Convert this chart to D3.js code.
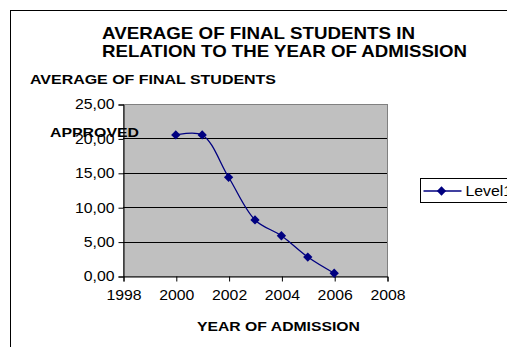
<!DOCTYPE html>
<html lang="en">
	<head>
		<meta charset="utf-8">
		<title>Average of final students</title>
		<script type="text/javascript" src="https://d3js.org/d3.v7.min.js"></script>
		<style type="text/css">
			body { margin: 0; background: #fff; }
			text { font-family: Arial, "Liberation Sans", sans-serif; }
		</style>
	</head>
	<body>
		<script type="text/javascript">

			//Data
			var years = [2000, 2001, 2002, 2003, 2004, 2005, 2006];
			var level1 = [20.5, 20.5, 14.35, 8.15, 5.85, 2.75, 0.4];
			var xTicks = [1998, 2000, 2002, 2004, 2006, 2008];
			var yTicks = [0, 5, 10, 15, 20, 25];

			//Width and height
			var w = 507;
			var h = 347;
			var plot = { left: 123, top: 104, right: 387, bottom: 276 };

			//Text in the original is drawn a little wider than it is tall
			var stretch = 1.13;

			var dataset = years.map(function(y, i) { return { year: y, value: level1[i] }; });

			var xScale = d3.scaleLinear().domain([1998, 2008]).range([plot.left, plot.right]);
			var yScale = d3.scaleLinear().domain([0, 25]).range([plot.bottom, plot.top]);

			var svg = d3.select("body")
						.append("svg")
						.attr("width", w)
						.attr("height", h);

			//Widen a text selection by a factor
			function widen(sel, k) {
				sel.each(function() {
					var len = this.getComputedTextLength();
					d3.select(this)
						.attr("textLength", len * k)
						.attr("lengthAdjust", "spacingAndGlyphs");
				});
			}

			//Outer frame (cut off at right and bottom)
			svg.append("rect")
				.attr("x", 10.5).attr("y", 10.5)
				.attr("width", 520).attr("height", 360)
				.attr("fill", "#fff")
				.attr("stroke", "#000")
				.attr("stroke-width", 1);

			//Plot area
			svg.append("rect")
				.attr("x", plot.left + 0.5).attr("y", plot.top + 0.5)
				.attr("width", plot.right - plot.left)
				.attr("height", plot.bottom - plot.top)
				.attr("fill", "#c0c0c0")
				.attr("stroke", "#808080")
				.attr("stroke-width", 1);

			//Gridlines
			svg.selectAll("line.grid")
				.data(yTicks.filter(function(d) { return d > 0 && d < 25; }))
				.enter()
				.append("line")
				.attr("class", "grid")
				.attr("x1", plot.left).attr("x2", plot.right)
				.attr("y1", function(d) { return Math.round(yScale(d)) + 0.5; })
				.attr("y2", function(d) { return Math.round(yScale(d)) + 0.5; })
				.attr("stroke", "#000")
				.attr("stroke-width", 1);

			//Y axis
			var yAxis = d3.axisLeft(yScale)
				.tickValues(yTicks)
				.tickSize(5)
				.tickPadding(4)
				.tickFormat(function(d) { return d3.format(".2f")(d).replace(".", ","); });

			svg.append("g")
				.attr("class", "y axis")
				.attr("transform", "translate(" + (plot.left + 0.5) + ",0.5)")
				.call(yAxis)
				.call(function(g) {
					g.select(".domain").attr("stroke", "#000");
					g.selectAll("text").attr("font-size", "14px").attr("fill", "#000")
						.attr("font-family", "Arial, 'Liberation Sans', sans-serif")
						.call(widen, stretch);
				});

			//X axis
			var xAxis = d3.axisBottom(xScale)
				.tickValues(xTicks)
				.tickSize(5)
				.tickPadding(9)
				.tickFormat(d3.format("d"));

			svg.append("g")
				.attr("class", "x axis")
				.attr("transform", "translate(0.5," + (plot.bottom + 0.5) + ")")
				.call(xAxis)
				.call(function(g) {
					g.select(".domain").attr("stroke", "#000");
					g.selectAll("text").attr("font-size", "14px").attr("fill", "#000")
						.attr("font-family", "Arial, 'Liberation Sans', sans-serif")
						.call(widen, stretch);
				});

			//Line
			var line = d3.line()
				.x(function(d) { return xScale(d.year); })
				.y(function(d) { return yScale(d.value); })
				.curve(d3.curveCatmullRom.alpha(0.5));

			svg.append("path")
				.datum(dataset)
				.attr("d", line)
				.attr("fill", "none")
				.attr("stroke", "#000080")
				.attr("stroke-width", 1.3);

			var diamond = d3.symbol().type(d3.symbolDiamond2).size(55);

			svg.selectAll("path.marker")
				.data(dataset)
				.enter()
				.append("path")
				.attr("class", "marker")
				.attr("d", diamond)
				.attr("transform", function(d) {
					return "translate(" + xScale(d.year) + "," + yScale(d.value) + ")";
				})
				.attr("fill", "#000080");

			//Title
			svg.append("text")
				.attr("x", 102).attr("y", 39)
				.attr("font-size", "17px").attr("font-weight", "bold")
				.attr("textLength", 313).attr("lengthAdjust", "spacingAndGlyphs")
				.text("AVERAGE OF FINAL STUDENTS IN");
			svg.append("text")
				.attr("x", 102).attr("y", 57)
				.attr("font-size", "17px").attr("font-weight", "bold")
				.attr("textLength", 365).attr("lengthAdjust", "spacingAndGlyphs")
				.text("RELATION TO THE YEAR OF ADMISSION");

			//Y axis title
			svg.append("text")
				.attr("x", 30).attr("y", 84)
				.attr("font-size", "13px").attr("font-weight", "bold")
				.attr("textLength", 246).attr("lengthAdjust", "spacingAndGlyphs")
				.text("AVERAGE OF FINAL STUDENTS");
			svg.append("text")
				.attr("x", 50).attr("y", 137)
				.attr("font-size", "13px").attr("font-weight", "bold")
				.attr("textLength", 89).attr("lengthAdjust", "spacingAndGlyphs")
				.text("APPROVED");

			//X axis title
			svg.append("text")
				.attr("x", 197).attr("y", 331)
				.attr("font-size", "13px").attr("font-weight", "bold")
				.attr("textLength", 163).attr("lengthAdjust", "spacingAndGlyphs")
				.text("YEAR OF ADMISSION");

			//Legend
			var legend = svg.append("g").attr("transform", "translate(420.5,178.5)");
			legend.append("rect")
				.attr("width", 100).attr("height", 24)
				.attr("fill", "#fff").attr("stroke", "#000");
			legend.append("line")
				.attr("x1", 3).attr("x2", 41).attr("y1", 12.5).attr("y2", 12.5)
				.attr("stroke", "#000080").attr("stroke-width", 1.3);
			legend.append("path")
				.attr("d", diamond)
				.attr("transform", "translate(21,12.5)")
				.attr("fill", "#000080");
			legend.append("text")
				.attr("x", 45).attr("y", 17.5)
				.attr("font-size", "14px")
				.text("Level1")
				.call(widen, stretch);

		</script>
	</body>
</html>
